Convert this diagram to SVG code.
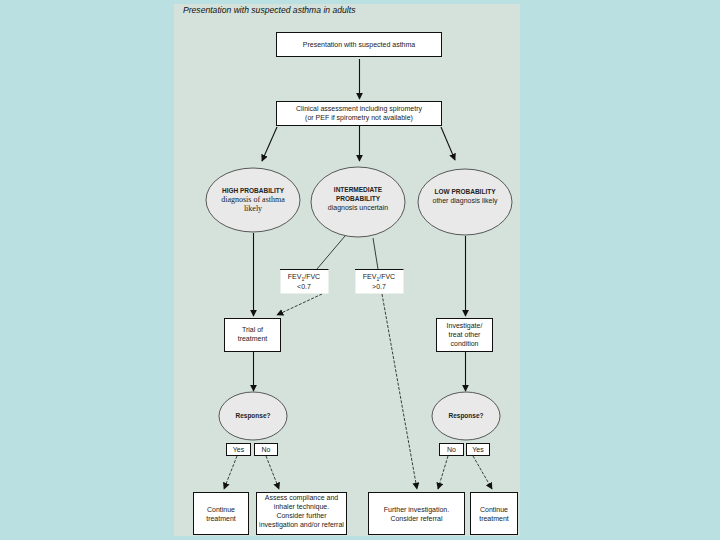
<svg xmlns="http://www.w3.org/2000/svg" width="720" height="540" viewBox="0 0 720 540">
<defs>
<marker id="ah" viewBox="0 0 10 10" refX="9" refY="5" markerWidth="7" markerHeight="7" markerUnits="userSpaceOnUse" orient="auto">
<path d="M0,0 L10,5 L0,10 z" fill="#111"/>
</marker>
<style>
.box{fill:#fff;stroke:#111;stroke-width:1}
.wb{fill:#fff;stroke:none}
.ell{fill:#e9e9e9;stroke:#333;stroke-width:0.8}
.t{font-family:"Liberation Sans",Arial,sans-serif;font-size:7px;fill:#222;text-anchor:middle}
.b{font-weight:bold;font-size:6.5px}
.sf{font-family:"Liberation Serif","Times New Roman",serif;font-size:8px}
.ln{stroke:#111;stroke-width:1.1;fill:none}
.th{stroke:#111;stroke-width:0.8;fill:none}
.ds{stroke:#111;stroke-width:0.8;fill:none;stroke-dasharray:3,1.5}
</style>
</defs>
<rect x="0" y="0" width="720" height="540" fill="#bae0e2"/>
<rect x="174" y="4" width="346" height="532" fill="#d4e2db"/>
<text x="183" y="13" font-family="Liberation Sans,Arial,sans-serif" font-size="8.6" font-style="italic" fill="#111">Presentation with suspected asthma in adults</text>

<g id="connectors">
<line class="ln" x1="359.5" y1="59" x2="359.5" y2="99" marker-end="url(#ah)"/>
<line class="ln" x1="277" y1="127" x2="262" y2="161" marker-end="url(#ah)"/>
<line class="ln" x1="359.5" y1="126" x2="359.5" y2="161" marker-end="url(#ah)"/>
<line class="ln" x1="441" y1="127" x2="455" y2="160" marker-end="url(#ah)"/>
<line class="ln" x1="253.5" y1="233" x2="253.5" y2="316" marker-end="url(#ah)"/>
<line class="ln" x1="465.5" y1="236" x2="465.5" y2="316" marker-end="url(#ah)"/>
<line class="th" x1="345" y1="236" x2="317" y2="269"/>
<line class="th" x1="373" y1="238" x2="378" y2="269"/>
<line class="ds" x1="322" y1="294" x2="277" y2="315" marker-end="url(#ah)"/>
<line class="ds" x1="382" y1="294" x2="417" y2="489" marker-end="url(#ah)"/>
<line class="ln" x1="253.5" y1="352" x2="253.5" y2="391" marker-end="url(#ah)"/>
<line class="ln" x1="465.5" y1="352" x2="465.5" y2="391" marker-end="url(#ah)"/>
<line class="ds" x1="237" y1="456" x2="224" y2="489" marker-end="url(#ah)"/>
<line class="ds" x1="266" y1="456" x2="279" y2="489" marker-end="url(#ah)"/>
<line class="ds" x1="448" y1="456" x2="438" y2="489" marker-end="url(#ah)"/>
<line class="ds" x1="473" y1="456" x2="492" y2="489" marker-end="url(#ah)"/>
</g>

<g id="n-presentation">
<rect class="box" x="276.5" y="32.5" width="165" height="24"/>
<text class="t" x="359" y="47">Presentation with suspected asthma</text>
</g>
<g id="n-clinical">
<rect class="box" x="276.5" y="101.5" width="165" height="24"/>
<text class="t" x="359" y="111">Clinical assessment including spirometry</text>
<text class="t" x="359" y="120">(or PEF if spirometry not available)</text>
</g>
<g id="n-high">
<ellipse class="ell" cx="253" cy="200" rx="47" ry="32"/>
<text class="t b" x="253" y="193">HIGH PROBABILITY</text>
<text class="t sf" x="253" y="202">diagnosis of asthma</text>
<text class="t sf" x="253" y="211">likely</text>
</g>
<g id="n-intermediate">
<ellipse class="ell" cx="358" cy="202" rx="47" ry="35"/>
<text class="t b" x="358" y="192">INTERMEDIATE</text>
<text class="t b" x="358" y="201">PROBABILITY</text>
<text class="t" x="358" y="210">diagnosis uncertain</text>
</g>
<g id="n-low">
<ellipse class="ell" cx="465" cy="202" rx="47" ry="33"/>
<text class="t b" x="465" y="194">LOW PROBABILITY</text>
<text class="t" x="465" y="203">other diagnosis likely</text>
</g>
<g id="n-fev-low">
<rect class="wb" x="280.5" y="269.5" width="48" height="24"/>
<line class="ln" x1="280" y1="269.5" x2="328.5" y2="269.5"/>
<text class="t" x="304" y="279">FEV<tspan font-size="5" dy="1.5">1</tspan><tspan dy="-1.5">/FVC</tspan></text>
<text class="t" x="304" y="289">&lt;0.7</text>
</g>
<g id="n-fev-high">
<rect class="wb" x="355.5" y="269.5" width="48" height="24"/>
<line class="ln" x1="355" y1="269.5" x2="403.5" y2="269.5"/>
<text class="t" x="379" y="279">FEV<tspan font-size="5" dy="1.5">1</tspan><tspan dy="-1.5">/FVC</tspan></text>
<text class="t" x="379" y="289">&gt;0.7</text>
</g>
<g id="n-trial">
<rect class="box" x="224.5" y="318.5" width="56" height="33"/>
<text class="t" x="252.5" y="332">Trial of</text>
<text class="t" x="252.5" y="341">treatment</text>
</g>
<g id="n-investigate">
<rect class="box" x="436.5" y="318.5" width="56" height="33"/>
<text class="t" x="464.5" y="328">Investigate/</text>
<text class="t" x="464.5" y="337">treat other</text>
<text class="t" x="464.5" y="346">condition</text>
</g>
<g id="n-response-left">
<ellipse class="ell" cx="253" cy="416" rx="34" ry="24"/>
<text class="t b" x="253" y="418">Response?</text>
</g>
<g id="n-response-right">
<ellipse class="ell" cx="466" cy="416" rx="34" ry="24"/>
<text class="t b" x="466" y="418">Response?</text>
</g>
<g id="n-yes-left">
<rect class="box" x="226.5" y="443.5" width="24" height="12"/>
<text class="t" x="238.5" y="452">Yes</text>
</g>
<g id="n-no-left">
<rect class="box" x="254.5" y="443.5" width="23" height="12"/>
<text class="t" x="266" y="452">No</text>
</g>
<g id="n-no-right">
<rect class="box" x="439.5" y="443.5" width="24" height="12"/>
<text class="t" x="451.5" y="452">No</text>
</g>
<g id="n-yes-right">
<rect class="box" x="466.5" y="443.5" width="23" height="12"/>
<text class="t" x="478" y="452">Yes</text>
</g>
<g id="n-continue-left">
<rect class="box" x="193.5" y="492.5" width="55" height="42"/>
<text class="t" x="221" y="512">Continue</text>
<text class="t" x="221" y="521">treatment</text>
</g>
<g id="n-assess">
<rect class="box" x="256.5" y="492.5" width="90" height="42"/>
<text class="t" x="301.5" y="500">Assess compliance and</text>
<text class="t" x="301.5" y="509">inhaler technique.</text>
<text class="t" x="301.5" y="518">Consider further</text>
<text class="t" x="301.5" y="527">investigation and/or referral</text>
</g>
<g id="n-further">
<rect class="box" x="368.5" y="492.5" width="96" height="42"/>
<text class="t" x="416.5" y="512">Further investigation.</text>
<text class="t" x="416.5" y="521">Consider referral</text>
</g>
<g id="n-continue-right">
<rect class="box" x="470.5" y="492.5" width="47" height="42"/>
<text class="t" x="494" y="512">Continue</text>
<text class="t" x="494" y="521">treatment</text>
</g>
</svg>
